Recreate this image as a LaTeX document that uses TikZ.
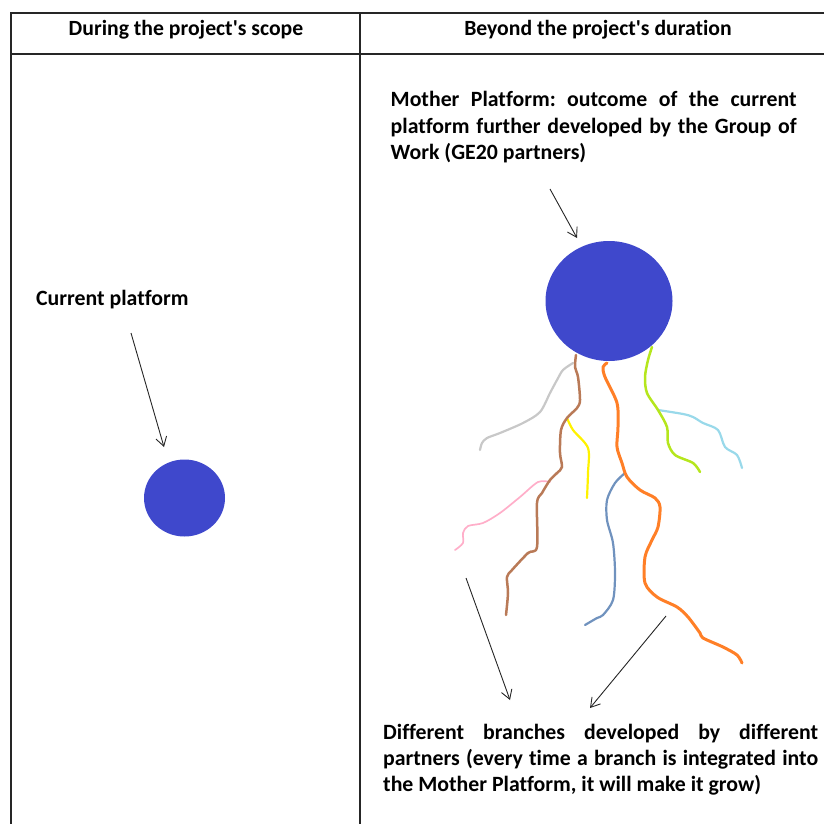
\documentclass[tikz,border=0pt]{standalone}
\usepackage{fontspec}
\setmainfont[Ligatures={NoCommon}]{Carlito}
\usetikzlibrary{arrows.meta,shapes.geometric}
\definecolor{platblue}{HTML}{3F48CC}
\definecolor{brOrange}{HTML}{FF7F27}
\definecolor{brBrown}{HTML}{B97A57}
\definecolor{brGray}{HTML}{C8C8C8}
\definecolor{brYellow}{HTML}{FFF200}
\definecolor{brPink}{HTML}{FFAEC9}
\definecolor{brSteel}{HTML}{7092BE}
\definecolor{brGreen}{HTML}{B5E61D}
\definecolor{brSky}{HTML}{99D9EA}
\frenchspacing
\hyphenpenalty=10000
\exhyphenpenalty=10000
\begin{document}
\begin{tikzpicture}[x=1pt,y=-1pt,
  tableline/.style={draw=black!85,line width=1.3pt},
  hdr/.style={font=\fontsize{21.7}{26}\selectfont\bfseries,inner sep=0pt},
  lbl/.style={font=\fontsize{21.8}{26}\selectfont\bfseries,inner sep=0pt},
  para/.style={font=\fontsize{21.8}{26}\selectfont\bfseries,inner sep=0pt,align=justify},
  platform/.style={ellipse,fill=platblue,draw=none,inner sep=0pt},
  pointer/.style={draw=black!85,line width=0.9pt,-{Straight Barb[length=9pt,width=11pt,line width=0.9pt]}},
  branch/.style={line width=2.2pt,line cap=round,line join=round}
]
\useasboundingbox (0,0) rectangle (824,824);
% table
\draw[tableline] (824,13) -- (11,13) -- (11,824);
\draw[tableline] (11,54) -- (824,54);
\draw[tableline] (360,13) -- (360,824);
\node[hdr] (h1) at (186,30) {During the project\textquotesingle s scope};
\node[hdr] (h2) at (598,30) {Beyond the project\textquotesingle s duration};
% left column
\node[lbl,anchor=base west] (cur) at (36,305) {Current platform};
\node[platform,minimum width=81pt,minimum height=77pt] (small) at (184.5,498) {};
\coordinate (a1s) at (131,333);
\coordinate (a1e) at (164,447);
\draw[pointer] (a1s) -- (a1e);
% right column
\node[para,anchor=base west,text width=406pt] (mother) at (390.5,107)
  {Mother Platform: outcome of the current platform further developed by the Group of Work (GE20 partners)};
\node[platform,minimum width=127pt,minimum height=120pt] (big) at (609,301) {};
\coordinate (a2s) at (550,189);
\coordinate (a2e) at (577,238);
\draw[pointer] (a2s) -- (a2e);
% branches
\draw[branch,brGray] plot[smooth,tension=0.5] coordinates {(573,363) (563,370) (557,380) (550,393) (540,412) (523,423) (500,433) (487,438) (482,443) (480,450)};
\draw[branch,brPink,line width=1.7pt] plot[smooth,tension=0.5] coordinates {(550,482) (538,482) (520,497) (500,513) (483,523) (468,526) (463,533) (463,543) (455,550)};
\draw[branch,brYellow] plot[smooth,tension=0.5] coordinates {(567,418) (573,430) (588,448) (588,473) (587,498)};
\draw[branch,brBrown,line width=2.5pt] plot[smooth,tension=0.5] coordinates {(576,355) (575,367) (578,377) (580,400) (577,408) (567,418) (561,430) (560,453) (562,467) (557,473) (550,480) (542,493) (537,503) (537,547) (528,553) (512,570) (507,577) (508,593) (506,615)};
\draw[branch,brSteel] plot[smooth,tension=0.5] coordinates {(625,473) (615,483) (607,500) (607,520) (613,543) (615,573) (613,600) (603,615) (597,618) (585,625)};
\draw[branch,brOrange,line width=3pt] plot[smooth,tension=0.5] coordinates {(607,363) (603,367) (605,377) (617,403) (618,427) (617,447) (622,463) (627,477) (640,490) (655,498) (660,507) (658,527) (652,540) (645,557) (645,583) (657,597) (677,607) (688,617) (700,633) (703,638) (723,647) (737,655) (742,663)};
\draw[branch,brSky] plot[smooth,tension=0.5] coordinates {(658,410) (683,414) (693,417) (703,423) (718,430) (725,447) (737,455) (742,468)};
\draw[branch,brGreen,line width=2.5pt] plot[smooth,tension=0.5] coordinates {(652,347) (648,360) (645,377) (647,393) (658,410) (667,427) (668,443) (675,455) (693,463) (700,472)};
% bottom
\coordinate (a3s) at (466,578);
\coordinate (a3e) at (510,700);
\draw[pointer] (a3s) -- (a3e);
\coordinate (a4s) at (666,616);
\coordinate (a4e) at (590,708);
\draw[pointer] (a4s) -- (a4e);
\node[para,anchor=base west,text width=435pt] (branches) at (383,739)
  {Different branches developed by different partners (every time a branch is integrated into the Mother Platform, it will make it grow)};
\end{tikzpicture}
\end{document}
